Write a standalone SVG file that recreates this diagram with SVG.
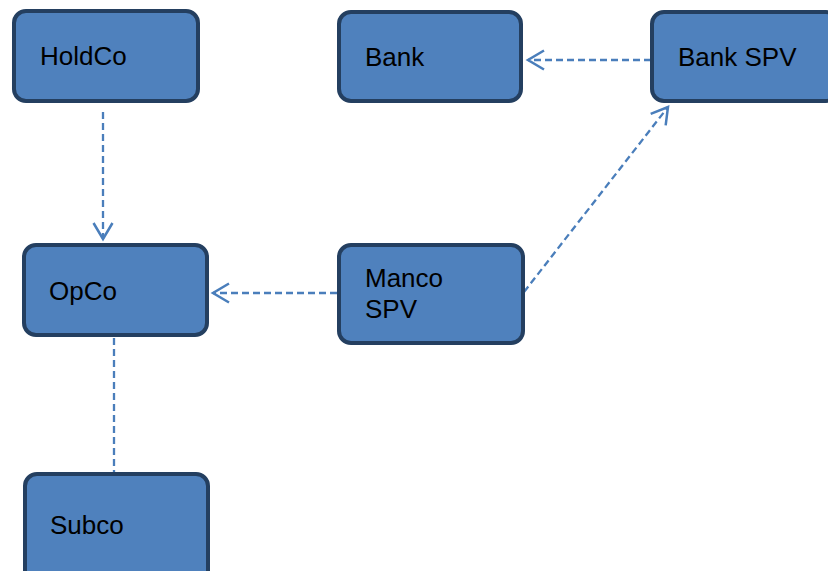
<svg xmlns="http://www.w3.org/2000/svg" width="828" height="571" viewBox="0 0 828 571">
<style>
.node rect{fill:#4F81BD;stroke:#243F60;stroke-width:4}
.node text{font-family:"Liberation Sans",Arial,sans-serif;font-size:26px;fill:#000}
.conn{fill:none;stroke:#4A7EBB;stroke-width:2.3;stroke-dasharray:7,4}
</style>
<defs>
<marker id="arr" markerUnits="userSpaceOnUse" markerWidth="24" markerHeight="24" viewBox="-18 -12 24 24" refX="0" refY="0" orient="auto">
<path d="M-16,-9.5 L0,0 L-16,9.5" fill="none" stroke="#4A7EBB" stroke-width="2.5"/>
</marker>
</defs>
<rect width="828" height="571" fill="#fff"/>
<g id="connectors">
<path class="conn" d="M103,112 L103,239" marker-end="url(#arr)"/>
<path class="conn" d="M651,60 L528,60" marker-end="url(#arr)"/>
<path class="conn" d="M337,293 L213,293" marker-end="url(#arr)"/>
<path class="conn" d="M524,292 L668,107" marker-end="url(#arr)"/>
<path class="conn" d="M114,338 L114,472"/>
</g>
<g id="holdco" class="node"><rect x="14" y="11" width="184" height="90" rx="12"/><text x="40" y="65">HoldCo</text></g>
<g id="bank" class="node"><rect x="339" y="12" width="182" height="89" rx="12"/><text x="365" y="66">Bank</text></g>
<g id="bankspv" class="node"><rect x="652" y="12" width="186" height="89" rx="12"/><text x="678" y="66">Bank SPV</text></g>
<g id="opco" class="node"><rect x="24" y="245" width="183" height="90" rx="12"/><text x="49" y="300">OpCo</text></g>
<g id="mancospv" class="node"><rect x="339" y="245" width="184" height="98" rx="12"/><text x="365" y="287">Manco</text><text x="365" y="318">SPV</text></g>
<g id="subco" class="node"><rect x="25" y="474" width="183" height="110" rx="12"/><text x="50" y="534">Subco</text></g>
</svg>
